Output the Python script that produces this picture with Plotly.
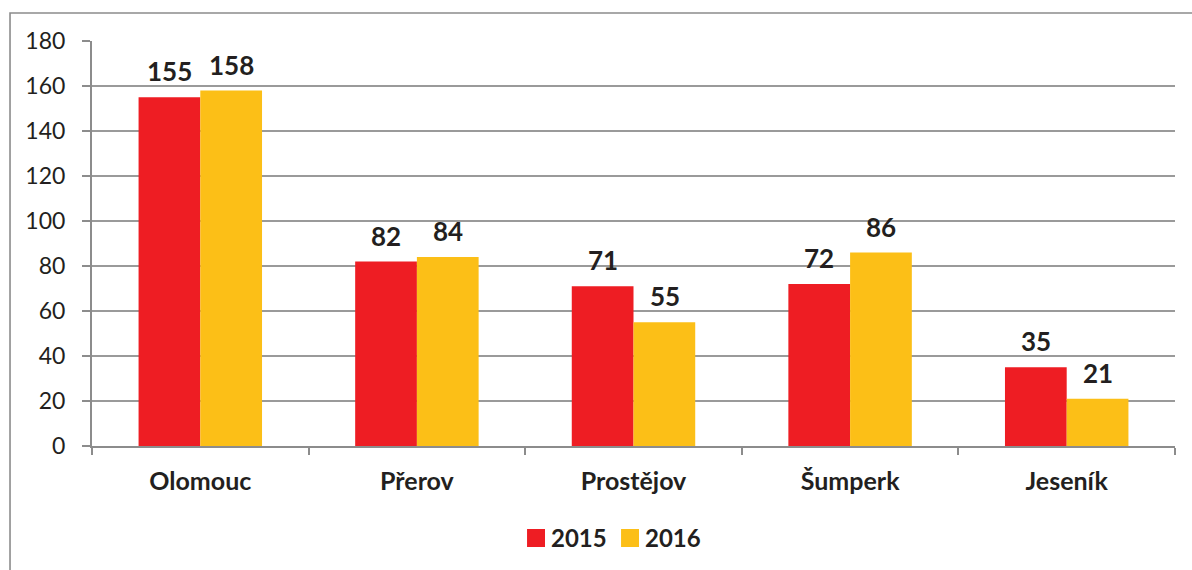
import plotly.graph_objects as go

categories = ["Olomouc", "Přerov", "Prostějov", "Šumperk", "Jeseník"]
years = ["2015", "2016"]
values_2015 = [155, 82, 71, 72, 35]
values_2016 = [158, 84, 55, 86, 21]
y_ticks = [0, 20, 40, 60, 80, 100, 120, 140, 160, 180]

colors = {"2015": "#EE1D23", "2016": "#FCBF17"}
series = {"2015": values_2015, "2016": values_2016}

FONT = "Lato, 'Open Sans', sans-serif"

fig = go.Figure()
for yr in years:
    fig.add_trace(go.Bar(
        name=yr, x=categories, y=series[yr],
        marker=dict(color=colors[yr], line=dict(width=0)),
        showlegend=False,
    ))

# data labels
offsets = {"2015": -31, "2016": 31}
for yr in years:
    for c, v in zip(categories, series[yr]):
        fig.add_annotation(x=c, y=v, text=f"<b>{v}</b>", showarrow=False,
                           xshift=offsets[yr], yshift=26,
                           font=dict(family=FONT, size=26, color="#231F20"))

# outer frame
fig.add_shape(type="rect", xref="paper", yref="paper",
              x0=-0.0757, x1=1.2, y0=-0.5, y1=1.069,
              line=dict(color="#8C8C8C", width=1.6), layer="below")

# legend (large square swatches like the original)
legend_x = {"2015": 0.4017, "2016": 0.4885}
sw_w, sw_y0, sw_y1 = 0.0166, -0.2494, -0.2049
for yr in years:
    x0 = legend_x[yr]
    fig.add_shape(type="rect", xref="paper", yref="paper",
                  x0=x0, x1=x0 + sw_w, y0=sw_y0, y1=sw_y1,
                  fillcolor=colors[yr], line=dict(width=0))
    fig.add_annotation(xref="paper", yref="paper", x=x0 + sw_w + 0.0035,
                       y=(sw_y0 + sw_y1) / 2, xanchor="left", yanchor="middle",
                       text=f"<b>{yr}</b>", showarrow=False,
                       font=dict(family=FONT, size=24, color="#231F20"))

fig.update_layout(
    width=1192, height=570,
    margin=dict(l=92, r=17, t=41, b=124, autoexpand=False),
    paper_bgcolor="white", plot_bgcolor="white",
    barmode="group", bargap=0.43, bargroupgap=0,
    font=dict(family=FONT, color="#231F20"),
    showlegend=False,
    xaxis=dict(
        type="category", showgrid=False, showline=True, linecolor="#8C8C8C", linewidth=2,
        ticks="outside", tickson="boundaries", ticklen=7, tickcolor="#8C8C8C", tickwidth=2,
        tickfont=dict(family=FONT, size=25, color="#231F20", weight="bold"),
        ticklabelstandoff=12, automargin=False,
    ),
    yaxis=dict(
        range=[0, 180], tickvals=y_ticks, showgrid=True, gridcolor="#9A9A9A", gridwidth=1.6,
        showline=True, linecolor="#8C8C8C", linewidth=2, zeroline=False,
        ticks="outside", ticklen=8, tickcolor="#8C8C8C", tickwidth=2,
        tickfont=dict(family=FONT, size=23, color="#231F20"),
        ticklabelstandoff=12, automargin=False,
    ),
)

fig.write_html("out.html", config={"displayModeBar": False},
               post_script="document.body.style.margin='0';document.body.style.overflow='hidden';")
